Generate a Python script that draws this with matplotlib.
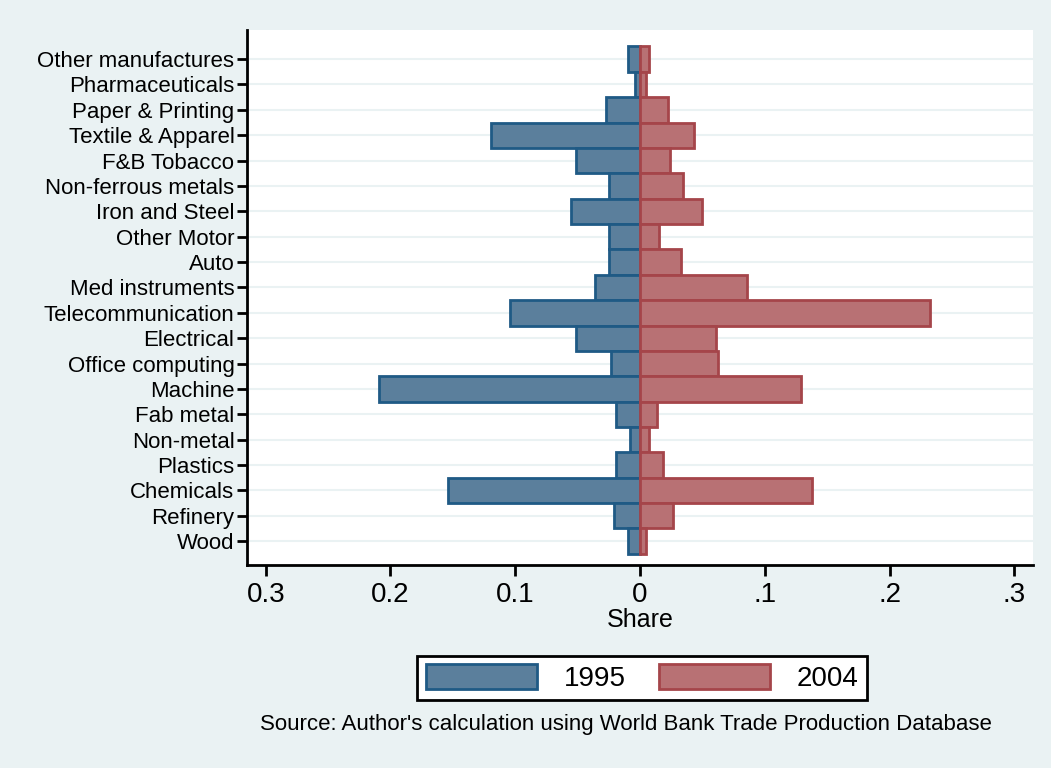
import numpy as np
import matplotlib
matplotlib.use('Agg')
import matplotlib.pyplot as plt

# Sectors, top to bottom as shown
sectors = ["Other manufactures", "Pharmaceuticals", "Paper & Printing", "Textile & Apparel",
           "F&B Tobacco", "Non-ferrous metals", "Iron and Steel", "Other Motor", "Auto",
           "Med instruments", "Telecommunication", "Electrical", "Office computing", "Machine",
           "Fab metal", "Non-metal", "Plastics", "Chemicals", "Refinery", "Wood"]
share_1995 = [0.010, 0.004, 0.027, 0.1195, 0.051, 0.025, 0.055, 0.025, 0.025, 0.036,
              0.1045, 0.051, 0.023, 0.209, 0.019, 0.008, 0.019, 0.154, 0.021, 0.010]
share_2004 = [0.007, 0.0045, 0.022, 0.0435, 0.024, 0.0345, 0.050, 0.0155, 0.033, 0.086,
              0.232, 0.0605, 0.0625, 0.129, 0.0135, 0.007, 0.018, 0.1375, 0.0265, 0.005]
xtick_vals = [-0.3, -0.2, -0.1, 0, 0.1, 0.2, 0.3]
xtick_labels = ["0.3", "0.2", "0.1", "0", ".1", ".2", ".3"]

BG = "#EAF2F3"
plt.rcParams['font.family'] = ['Liberation Sans', 'DejaVu Sans']

fig = plt.figure(figsize=(10.51, 7.68), dpi=100, facecolor=BG)
ax = fig.add_axes([0.235, 0.264, 0.748, 0.697])
ax.set_facecolor("white")

n = len(sectors)
y = np.arange(n)[::-1]

for yy in y:
    ax.axhline(yy, color=BG, lw=1.5, zorder=0)

ax.barh(y, -np.array(share_1995), height=1.0, color="#5B7F9C", edgecolor="#1F5A85",
        linewidth=2, label="1995", zorder=2)
ax.barh(y, share_2004, height=1.0, color="#B87174", edgecolor="#A5454A",
        linewidth=2, label="2004", zorder=2)

ax.set_xlim(-0.315, 0.315)
ax.set_ylim(-0.95, n - 1 + 1.15)
ax.set_yticks(y)
ax.set_yticklabels(sectors, fontsize=16)
ax.set_xticks(xtick_vals)
ax.set_xticklabels(xtick_labels, fontsize=20)
ax.set_xlabel("Share", fontsize=18, labelpad=0)

for s in ["top", "right"]:
    ax.spines[s].set_visible(False)
for s in ["left", "bottom"]:
    ax.spines[s].set_linewidth(2)
ax.tick_params(axis="y", length=7, width=2, pad=2)
ax.tick_params(axis="x", length=8, width=2, pad=4)

leg = fig.legend(loc="center", bbox_to_anchor=(0.611, 0.117), ncol=2, fontsize=20,
                 handlelength=4.0, handleheight=1.0, handletextpad=0.97, columnspacing=1.19,
                 fancybox=False, edgecolor="black", framealpha=1, borderpad=0.3)
leg.get_frame().set_linewidth(2)

fig.text(0.596, 0.056, "Source: Author's calculation using World Bank Trade Production Database",
         ha="center", va="center", fontsize=16)

fig.savefig("out.png", dpi=100, facecolor=BG)
